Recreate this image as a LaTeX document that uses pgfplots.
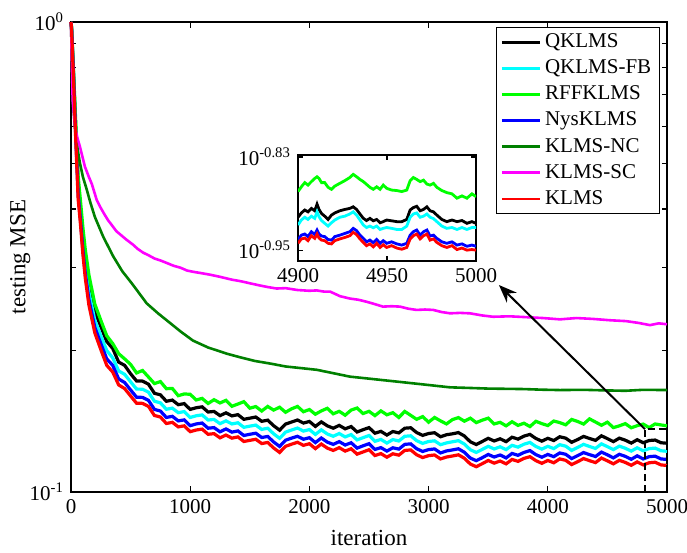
\documentclass[border=0pt]{standalone}
\usepackage{fontspec}
\setmainfont{Liberation Serif}
\usepackage{pgfplots}
\pgfplotsset{compat=1.18}
\usepackage{pgfplotstable}
\usetikzlibrary{arrows.meta,calc}
\definecolor{dgreen}{rgb}{0,0.5,0}
\definecolor{ccyan}{rgb}{0,1,1}
\definecolor{cmag}{rgb}{1,0,1}
\definecolor{cgreen}{rgb}{0,1,0}
\definecolor{cblue}{rgb}{0,0,1}
\definecolor{cred}{rgb}{1,0,0}

\pgfplotstableread{
x red blue cyan black green
0 1.0 1.0 1.0 1.0 1.0
5 0.96 0.965 0.967 0.97 0.975
20 0.77 0.78 0.785 0.79 0.80
40 0.56 0.57 0.58 0.59 0.61
60 0.42 0.43 0.44 0.45 0.47
80 0.37 0.378 0.388 0.40 0.415
100 0.32 0.327 0.338 0.350 0.365
120 0.285 0.292 0.302 0.313 0.328
150 0.250 0.257 0.266 0.277 0.290
200 0.218 0.224 0.232 0.242 0.251
250 0.201 0.207 0.215 0.225 0.232
300 0.186 0.192 0.200 0.209 0.215
350 0.180 0.186 0.193 0.202 0.207
400 0.169 0.174 0.181 0.189 0.197
450 0.166 0.171 0.178 0.186 0.192
500 0.1601 0.1649 0.1716 0.1785 0.1869
550 0.1545 0.1591 0.1656 0.1723 0.1792
600 0.1544 0.1590 0.1655 0.1722 0.1814
650 0.1521 0.1567 0.1631 0.1696 0.1757
700 0.1455 0.1499 0.1560 0.1622 0.1701
750 0.1444 0.1487 0.1548 0.1610 0.1718
800 0.1399 0.1441 0.1500 0.1560 0.1659
850 0.1407 0.1449 0.1508 0.1569 0.1661
900 0.1376 0.1417 0.1475 0.1534 0.1603
950 0.1383 0.1424 0.1483 0.1542 0.1617
1000 0.1344 0.1384 0.1441 0.1499 0.1614
1050 0.1355 0.1396 0.1453 0.1511 0.1570
1100 0.1361 0.1402 0.1459 0.1518 0.1582
1150 0.1327 0.1367 0.1423 0.1480 0.1543
1200 0.1331 0.1371 0.1427 0.1484 0.1572
1250 0.1304 0.1343 0.1398 0.1454 0.1547
1300 0.1322 0.1362 0.1417 0.1474 0.1567
1350 0.1302 0.1341 0.1396 0.1452 0.1522
1400 0.1310 0.1349 0.1404 0.1461 0.1539
1450 0.1281 0.1319 0.1373 0.1428 0.1557
1500 0.1288 0.1327 0.1381 0.1436 0.1508
1550 0.1295 0.1334 0.1388 0.1444 0.1520
1600 0.1268 0.1306 0.1359 0.1414 0.1487
1650 0.1275 0.1313 0.1367 0.1422 0.1521
1700 0.1241 0.1278 0.1330 0.1384 0.1494
1750 0.1214 0.1250 0.1301 0.1354 0.1515
1800 0.1251 0.1289 0.1341 0.1395 0.1478
1850 0.1264 0.1302 0.1355 0.1409 0.1503
1900 0.1276 0.1314 0.1368 0.1423 0.1521
1950 0.1257 0.1295 0.1348 0.1402 0.1482
2000 0.1267 0.1305 0.1358 0.1413 0.1498
2050 0.1237 0.1274 0.1326 0.1379 0.1464
2100 0.1265 0.1303 0.1356 0.1410 0.1488
2150 0.1240 0.1277 0.1329 0.1383 0.1507
2200 0.1226 0.1263 0.1314 0.1367 0.1467
2250 0.1243 0.1280 0.1332 0.1386 0.1485
2300 0.1222 0.1259 0.1310 0.1363 0.1457
2350 0.1236 0.1273 0.1325 0.1378 0.1494
2400 0.1204 0.1240 0.1291 0.1342 0.1509
2450 0.1217 0.1254 0.1305 0.1357 0.1469
2500 0.1230 0.1267 0.1319 0.1371 0.1485
2550 0.1196 0.1232 0.1282 0.1334 0.1454
2600 0.1207 0.1243 0.1294 0.1346 0.1488
2650 0.1186 0.1222 0.1271 0.1322 0.1460
2700 0.1206 0.1242 0.1293 0.1345 0.1475
2750 0.1198 0.1234 0.1284 0.1336 0.1441
2800 0.1226 0.1263 0.1314 0.1367 0.1484
2850 0.1229 0.1266 0.1317 0.1370 0.1456
2900 0.1200 0.1236 0.1286 0.1338 0.1428
2950 0.1184 0.1220 0.1269 0.1320 0.1447
3000 0.1195 0.1231 0.1281 0.1332 0.1408
3050 0.1199 0.1235 0.1285 0.1337 0.1441
3100 0.1176 0.1211 0.1261 0.1311 0.1417
3150 0.1187 0.1223 0.1272 0.1324 0.1396
3200 0.1193 0.1229 0.1279 0.1330 0.1426
3250 0.1200 0.1236 0.1286 0.1338 0.1440
3300 0.1180 0.1215 0.1265 0.1316 0.1415
3350 0.1147 0.1181 0.1230 0.1279 0.1436
3400 0.1132 0.1166 0.1214 0.1262 0.1405
3450 0.1149 0.1183 0.1232 0.1281 0.1422
3500 0.1167 0.1202 0.1251 0.1301 0.1436
3550 0.1152 0.1187 0.1235 0.1284 0.1396
3600 0.1164 0.1199 0.1248 0.1298 0.1407
3650 0.1148 0.1182 0.1231 0.1280 0.1383
3700 0.1173 0.1208 0.1257 0.1308 0.1411
3750 0.1162 0.1197 0.1246 0.1296 0.1386
3800 0.1179 0.1214 0.1264 0.1315 0.1401
3850 0.1189 0.1225 0.1275 0.1326 0.1378
3900 0.1166 0.1201 0.1250 0.1300 0.1414
3950 0.1151 0.1186 0.1234 0.1283 0.1398
4000 0.1167 0.1202 0.1251 0.1301 0.1385
4050 0.1154 0.1189 0.1237 0.1287 0.1416
4100 0.1176 0.1211 0.1261 0.1311 0.1405
4150 0.1168 0.1203 0.1252 0.1302 0.1390
4200 0.1144 0.1178 0.1226 0.1276 0.1427
4250 0.1160 0.1195 0.1244 0.1293 0.1413
4300 0.1178 0.1213 0.1263 0.1313 0.1395
4350 0.1166 0.1201 0.1250 0.1300 0.1431
4400 0.1155 0.1190 0.1238 0.1288 0.1409
4450 0.1181 0.1216 0.1266 0.1317 0.1387
4500 0.1165 0.1200 0.1249 0.1299 0.1408
4550 0.1148 0.1182 0.1231 0.1280 0.1371
4600 0.1168 0.1203 0.1252 0.1302 0.1383
4650 0.1156 0.1191 0.1239 0.1289 0.1398
4700 0.1140 0.1174 0.1222 0.1271 0.1370
4750 0.1159 0.1194 0.1242 0.1292 0.1384
4800 0.1142 0.1176 0.1224 0.1273 0.1395
4850 0.1154 0.1189 0.1237 0.1287 0.1371
4900 0.1157 0.1192 0.1240 0.1290 0.1396
4950 0.1142 0.1176 0.1224 0.1273 0.1389
5000 0.1139 0.1173 0.1221 0.1270 0.1383
}\lowdata

\pgfplotstableread{
x y
0 1.0
7 0.813
14 0.682
34 0.598
55 0.537
75 0.501
100 0.468
130 0.442
160 0.415
200 0.385
271 0.349
355 0.317
430 0.295
510 0.278
635 0.252
730 0.240
830 0.229
920 0.2195
1023 0.210
1150 0.203
1306 0.197
1420 0.1935
1545 0.190
1680 0.1875
1800 0.185
1930 0.1835
2062 0.182
2200 0.179
2340 0.176
2480 0.1745
2617 0.173
2760 0.1715
2900 0.170
3040 0.1685
3180 0.167
3350 0.1665
3500 0.166
3650 0.1658
3800 0.1656
3950 0.1651
4102 0.1648
4300 0.1650
4500 0.1645
4650 0.1642
4800 0.1650
5000 0.1648
}\ncdata

\pgfplotstableread{
x y
0 1.0
7 0.82
14 0.682
34 0.598
55 0.565
75 0.543
100 0.512
117 0.492
150 0.468
175 0.452
216 0.418
243 0.405
280 0.390
310 0.379
345 0.369
380 0.359
420 0.352
467 0.344
520 0.336
560 0.329
606 0.323
650 0.319
700 0.314
750 0.311
805 0.307
860 0.303
920 0.300
973 0.296
1030 0.294
1100 0.292
1166 0.290
1250 0.287
1350 0.283
1420 0.281
1502 0.278
1586 0.275
1650 0.273
1725 0.271
1800 0.2715
1900 0.269
2000 0.268
2062 0.2685
2120 0.267
2173 0.267
2257 0.261
2340 0.258
2410 0.2565
2480 0.254
2550 0.251
2617 0.248
2690 0.2485
2760 0.248
2830 0.2455
2900 0.244
2970 0.2445
3040 0.244
3110 0.2415
3180 0.240
3263 0.2405
3347 0.240
3450 0.2375
3540 0.236
3680 0.2365
3825 0.2355
3960 0.2345
4102 0.233
4240 0.2345
4379 0.2335
4520 0.232
4657 0.231
4760 0.229
4857 0.2265
4930 0.2285
5000 0.2275
}\scdata

\pgfplotstableread{
x green black cyan blue red
4900 0.1335 0.1237 0.1209 0.1158 0.1145
4901.9 0.1354 0.1253 0.1227 0.1173 0.1160
4903.8 0.1371 0.1264 0.1237 0.1177 0.1163
4905.6 0.1361 0.1257 0.1229 0.1168 0.1154
4907.5 0.1375 0.1270 0.1241 0.1185 0.1171
4909.4 0.1388 0.1261 0.1233 0.1175 0.1162
4910.7 0.1395 0.1286 0.1257 0.1191 0.1177
4911.8 0.1388 0.1266 0.1239 0.1177 0.1163
4913.2 0.1371 0.1251 0.1225 0.1170 0.1156
4915.0 0.1371 0.1241 0.1215 0.1168 0.1154
4916.9 0.1352 0.1229 0.1205 0.1158 0.1145
4918.8 0.1344 0.1245 0.1217 0.1156 0.1143
4920.7 0.1357 0.1253 0.1227 0.1168 0.1154
4923.5 0.1368 0.1261 0.1237 0.1173 0.1160
4926.3 0.1379 0.1266 0.1241 0.1179 0.1165
4929.1 0.1392 0.1270 0.1249 0.1185 0.1171
4931.0 0.1405 0.1276 0.1257 0.1197 0.1183
4932.9 0.1395 0.1266 0.1245 0.1189 0.1175
4934.8 0.1384 0.1249 0.1227 0.1173 0.1160
4936.7 0.1375 0.1233 0.1209 0.1162 0.1148
4938.5 0.1364 0.1225 0.1200 0.1150 0.1137
4940.4 0.1352 0.1233 0.1205 0.1156 0.1143
4942.3 0.1344 0.1224 0.1199 0.1147 0.1133
4944.2 0.1354 0.1229 0.1205 0.1158 0.1145
4946.1 0.1344 0.1217 0.1193 0.1145 0.1131
4947.9 0.1361 0.1221 0.1197 0.1154 0.1140
4949.8 0.1348 0.1227 0.1200 0.1145 0.1131
4952.6 0.1341 0.1224 0.1197 0.1150 0.1137
4955.5 0.1339 0.1221 0.1193 0.1143 0.1129
4958.3 0.1335 0.1221 0.1193 0.1139 0.1125
4961.1 0.1341 0.1229 0.1205 0.1145 0.1131
4963.0 0.1379 0.1264 0.1237 0.1173 0.1160
4964.8 0.1392 0.1273 0.1249 0.1185 0.1171
4966.7 0.1384 0.1278 0.1253 0.1191 0.1177
4968.6 0.1375 0.1261 0.1237 0.1173 0.1160
4970.5 0.1381 0.1266 0.1241 0.1185 0.1171
4972.4 0.1365 0.1276 0.1249 0.1191 0.1177
4974.2 0.1361 0.1261 0.1237 0.1170 0.1156
4976.1 0.1368 0.1257 0.1232 0.1173 0.1160
4978.0 0.1352 0.1245 0.1221 0.1162 0.1148
4980.8 0.1339 0.1229 0.1205 0.1150 0.1137
4983.6 0.1331 0.1221 0.1197 0.1145 0.1131
4986.5 0.1326 0.1227 0.1200 0.1150 0.1137
4989.3 0.1309 0.1221 0.1193 0.1139 0.1124
4992.1 0.1318 0.1225 0.1200 0.1143 0.1129
4994.9 0.1309 0.1215 0.1193 0.1135 0.1122
4997.7 0.1326 0.1221 0.1200 0.1139 0.1124
5000 0.1315 0.1215 0.1200 0.1135 0.1122
}\insetdata

\begin{document}
\begin{tikzpicture}
\begin{axis}[
  name=main,
  scale only axis, width=298pt, height=235pt,
  xmin=0, xmax=5000, ymode=log, ymin=0.1, ymax=1,
  clip=false,
  xtick={0,1000,2000,3000,4000,5000},
  scaled x ticks=false,
  ytick={0.1,1},
  yticklabels={10\textsuperscript{-1},10\textsuperscript{0}},
  xticklabel style={/pgf/number format/assume math mode=true,/pgf/number format/1000 sep={}},
  tick label style={font=\fontsize{10.5}{12}\selectfont},
  xlabel={iteration}, ylabel={testing MSE},
  label style={font=\fontsize{11.5}{13}\selectfont},
  ylabel style={at={(axis description cs:-0.085,0.5)}, anchor=center, rotate=0},
  xlabel style={at={(axis description cs:0.5,-0.098)}, anchor=center},
  axis line style={line width=0.8pt},
  tick style={line width=0.6pt, black},
  major tick length=3pt, minor tick length=2.5pt,
  legend entries={QKLMS,QKLMS-FB,RFFKLMS,NysKLMS,KLMS-NC,KLMS-SC,KLMS},
  legend cell align=left,
  legend image code/.code={\draw[#1,line width=1.3pt] (0pt,0pt) -- (19pt,0pt);},
  legend style={at={(axis description cs:0.988,0.989)}, anchor=north east,
    draw=black, line width=0.6pt, font=\fontsize{10.5}{12}\selectfont,
    inner xsep=2pt, inner ysep=1pt, row sep=0.6pt},
]
\addplot[black, line width=1.6pt] table[x=x,y=black]{\lowdata};
\addplot[ccyan, line width=1.6pt] table[x=x,y=cyan]{\lowdata};
\addplot[cgreen, line width=1.6pt] table[x=x,y=green]{\lowdata};
\addplot[cblue, line width=1.6pt] table[x=x,y=blue]{\lowdata};
\addplot[dgreen, line width=1.3pt] table[x=x,y=y]{\ncdata};
\addplot[cmag, line width=1.3pt] table[x=x,y=y]{\scdata};
\addplot[cred, line width=1.6pt] table[x=x,y=red]{\lowdata};
\draw[line width=1.1pt, dash pattern=on 3.5pt off 2pt] (axis cs:4815,0.1) rectangle (axis cs:5000,0.1361);
\draw[-{Stealth[length=9pt,width=7pt]}, line width=1pt] (axis cs:4815,0.1361) -- (axis cs:3590,0.2757);
\end{axis}
\begin{axis}[
  at={($(main.south west)+(113.5pt,115.5pt)$)}, anchor=south west,
  scale only axis, width=89pt, height=53pt,
  xmin=4900, xmax=5000, ymode=log, ymin=0.10864, ymax=0.14880,
  xtick={4900,4950,5000}, scaled x ticks=false,
  ytick={0.14791,0.11220},
  yticklabels={10\textsuperscript{-0.83},10\textsuperscript{-0.95}},
  yminorticks=false,
  xticklabel style={/pgf/number format/assume math mode=true,/pgf/number format/1000 sep={}},
  tick label style={font=\fontsize{10.5}{12}\selectfont},
  axis line style={line width=0.8pt},
  tick style={line width=0.6pt, black},
  major tick length=2.5pt,
  axis background/.style={fill=white},
]
\addplot[black, line width=1.4pt] table[x=x,y=black]{\insetdata};
\addplot[ccyan, line width=1.4pt] table[x=x,y=cyan]{\insetdata};
\addplot[cgreen, line width=1.4pt] table[x=x,y=green]{\insetdata};
\addplot[cblue, line width=1.4pt] table[x=x,y=blue]{\insetdata};
\addplot[cred, line width=1.4pt] table[x=x,y=red]{\insetdata};
\end{axis}
\pgfresetboundingbox
\useasboundingbox ($(main.south west)+(-35.5pt,-30pt)$) rectangle ($(main.north east)+(10pt,11pt)$);
\end{tikzpicture}
\end{document}
